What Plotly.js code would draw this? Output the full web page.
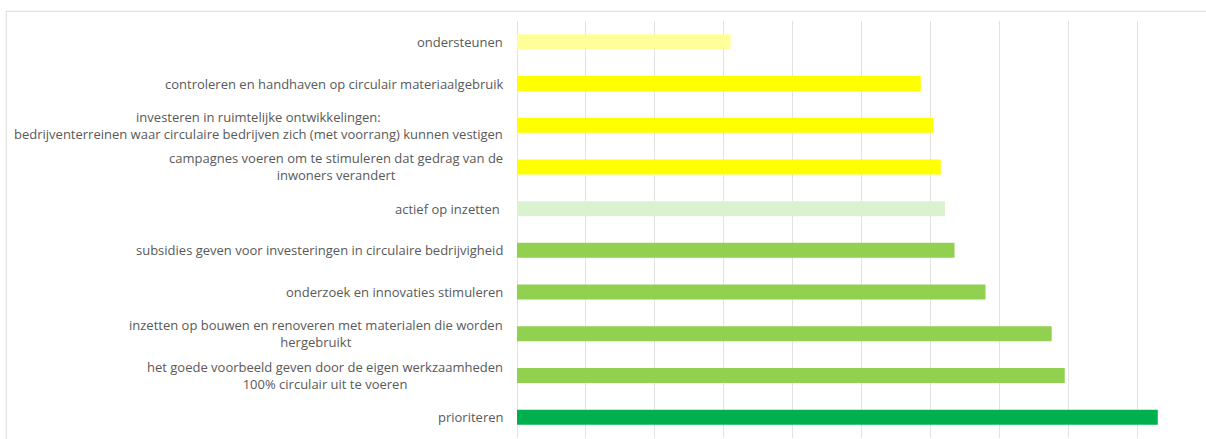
<!DOCTYPE html>
<html>
<head>
<meta charset="utf-8">
<script src="https://cdn.plot.ly/plotly-3.0.1.min.js"></script>
<style>html,body{margin:0;padding:0;background:#fff;}#chart{width:1206px;height:439px;}</style>
</head>
<body>
<div id="chart"></div>
<script>
const categories = [
  "ondersteunen",
  "controleren en handhaven op circulair materiaalgebruik",
  "investeren in ruimtelijke ontwikkelingen:<br>bedrijventerreinen waar circulaire bedrijven zich (met voorrang) kunnen vestigen",
  "campagnes voeren om te stimuleren dat gedrag van de<br>inwoners verandert",
  "actief op inzetten ",
  "subsidies geven voor investeringen in circulaire bedrijvigheid",
  "onderzoek en innovaties stimuleren",
  "inzetten op bouwen en renoveren met materialen die worden<br>hergebruikt",
  "het goede voorbeeld geven door de eigen werkzaamheden<br>100% circulair uit te voeren",
  "prioriteren"
];
const values = [3.10, 5.86, 6.04, 6.15, 6.21, 6.35, 6.80, 7.76, 7.95, 9.30];
const barColors = ["#FFFF99", "#FFFF00", "#FFFF00", "#FFFF00", "#D9F2D0", "#92D050", "#92D050", "#92D050", "#92D050", "#00B050"];

const ids = categories.map((c, i) => "c" + i);

const trace = {
  type: "bar",
  orientation: "h",
  y: ids,
  x: values,
  width: 0.36,
  marker: { color: barColors, line: { width: 0 } },
  hoverinfo: "skip"
};

const annotations = categories.map((c, i) => ({
  x: 0, xref: "x", y: ids[i], yref: "y",
  text: c, showarrow: false, xanchor: "right", xshift: -12,
  align: "center", font: { family: "Open Sans, sans-serif", size: 13, color: "#595959" }
}));

const layout = {
  width: 1206, height: 439,
  margin: { l: 517, r: 0, t: 21, b: 1.4 },
  paper_bgcolor: "#ffffff", plot_bgcolor: "#ffffff",
  showlegend: false,
  xaxis: { range: [0, 10], dtick: 1, showticklabels: false, showgrid: true, gridcolor: "#E3E3E3", gridwidth: 1, zeroline: true, zerolinecolor: "#E3E3E3", zerolinewidth: 1, fixedrange: true },
  yaxis: { autorange: "reversed", showticklabels: false, showgrid: false, zeroline: false, fixedrange: true, categoryorder: "array", categoryarray: ids },
  annotations: annotations,
  shapes: [{
    type: "rect", xref: "paper", yref: "paper",
    x0: -0.7413, x1: 1.05, y0: -0.2, y1: 1.0233,
    line: { color: "#D9D9D9", width: 1 }, fillcolor: "rgba(0,0,0,0)", layer: "below"
  }]
};

Plotly.newPlot("chart", [trace], layout, { displayModeBar: false, staticPlot: true });
</script>
</body>
</html>
